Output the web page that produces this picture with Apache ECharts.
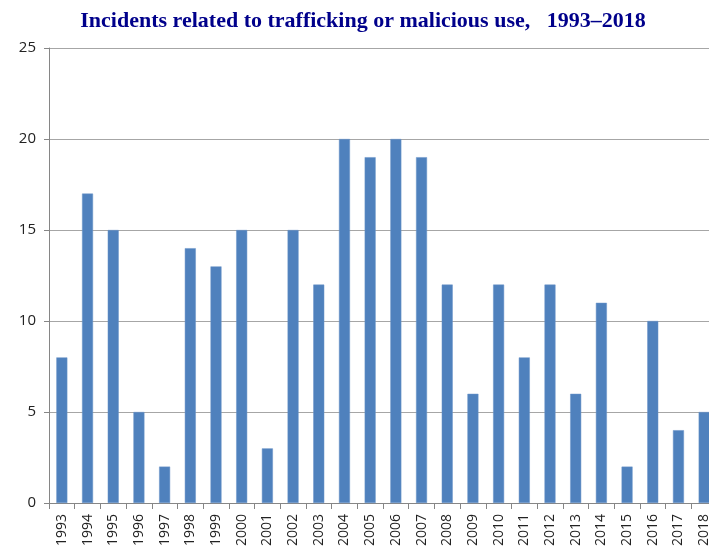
<!DOCTYPE html>
<html>
<head>
<meta charset="utf-8">
<script src="https://cdn.jsdelivr.net/npm/echarts@6/dist/echarts.min.js"></script>
<style>
  html, body { margin: 0; padding: 0; background: #fff; overflow: hidden; }
  /* wider than the window: the original cuts the 2018 bar at the right edge */
  #chart { width: 725px; height: 550px; }
</style>
</head>
<body>
<div id="chart"></div>
<script>
const years = ['1993', '1994', '1995', '1996', '1997', '1998', '1999', '2000', '2001', '2002', '2003', '2004', '2005',
  '2006', '2007', '2008', '2009', '2010', '2011', '2012', '2013', '2014', '2015', '2016', '2017', '2018'];
const incidents = [8, 17, 15, 5, 2, 14, 13, 15, 3, 15, 12, 20, 19, 20, 19, 12, 6, 12, 8, 12, 6, 11, 2, 10, 4, 5];
const yTicks = [0, 5, 10, 15, 20, 25];

const chart = echarts.init(document.getElementById('chart'), null, { renderer: 'canvas' });

const option = {
  animation: false,
  title: {
    text: 'Incidents related to trafficking or malicious use,   1993\u20132018',
    left: 358,
    textAlign: 'center',
    top: 5,
    textStyle: {
      fontFamily: '"Liberation Serif", "DejaVu Serif", serif',
      fontWeight: 'bold',
      fontSize: 22,
      color: '#00008B'
    }
  },
  grid: {
    left: 49,
    right: 8,
    top: 48,
    bottom: 47,
    containLabel: false
  },
  xAxis: {
    type: 'category',
    data: years,
    axisLine: { lineStyle: { color: '#868686', width: 1 } },
    axisTick: { show: true, length: 6, alignWithLabel: false, lineStyle: { color: '#868686' } },
    axisLabel: {
      rotate: 90,
      interval: 0,
      margin: 11,
      fontFamily: '"Open Sans", "Noto Sans", sans-serif',
      fontSize: 14,
      color: '#222'
    }
  },
  yAxis: {
    type: 'value',
    min: yTicks[0],
    max: yTicks[yTicks.length - 1],
    interval: 5,
    axisLine: { show: true, lineStyle: { color: '#868686', width: 1 } },
    axisTick: { show: true, length: 5, lineStyle: { color: '#868686' } },
    axisLabel: {
      margin: 13,
      fontFamily: '"Open Sans", "Noto Sans", sans-serif',
      fontSize: 15,
      color: '#222'
    },
    splitLine: { lineStyle: { color: '#a6a6a6', width: 1 } }
  },
  series: [
    {
      name: 'Incidents',
      type: 'bar',
      data: incidents,
      barWidth: 11,
      itemStyle: { color: '#4F81BD', borderColor: '#6b95c9', borderWidth: 0.5 }
    }
  ]
};

chart.setOption(option);
</script>
</body>
</html>
